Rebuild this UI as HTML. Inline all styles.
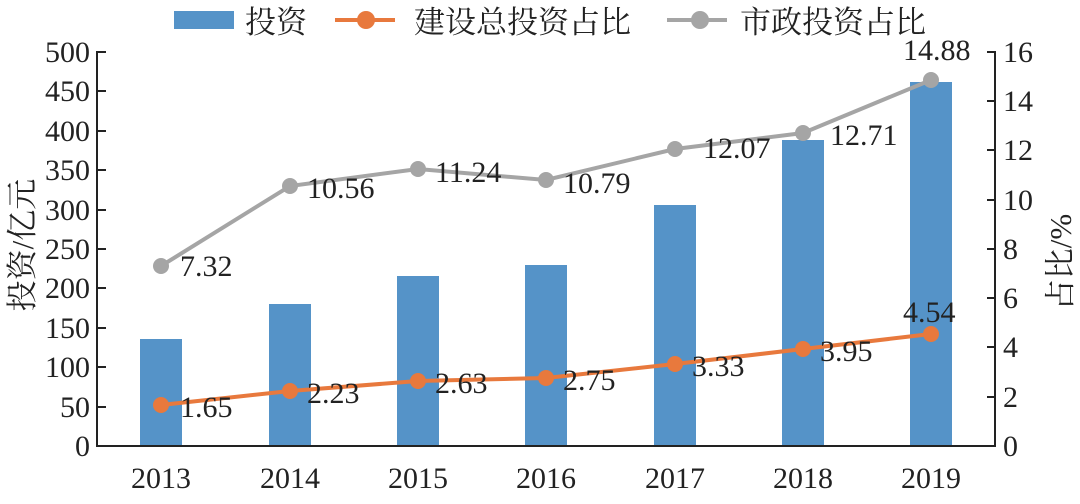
<!DOCTYPE html>
<html><head><meta charset="utf-8"><style>
body{margin:0;background:#fff}
text{font-family:"Liberation Serif","Noto Serif CJK SC",serif;fill:#222}
</style></head><body>
<svg width="1080" height="499" xmlns="http://www.w3.org/2000/svg">
<!-- legend -->
<rect x="174" y="11" width="60" height="18" fill="#5593c8"/>
<text x="245" y="33" font-size="31">投资</text>
<line x1="335" y1="20" x2="395" y2="20" stroke="#e8793d" stroke-width="4"/>
<circle cx="366" cy="20" r="9" fill="#e8793d"/>
<text x="414" y="33" font-size="31">建设总投资占比</text>
<line x1="667" y1="20" x2="727" y2="20" stroke="#a5a5a5" stroke-width="4"/>
<circle cx="700" cy="20" r="9" fill="#a5a5a5"/>
<text x="740" y="33" font-size="31">市政投资占比</text>
<!-- bars -->
<g fill="#5593c8">
<rect x="140" y="339" width="42" height="107"/>
<rect x="269" y="304" width="42" height="142"/>
<rect x="397" y="276" width="42" height="170"/>
<rect x="525" y="265" width="42" height="181"/>
<rect x="654" y="205" width="42" height="241"/>
<rect x="782" y="140" width="42" height="306"/>
<rect x="910" y="82" width="42" height="364"/>
</g>
<!-- axes -->
<g stroke="#222" stroke-width="2" fill="none">
<path d="M106 52H97V446H995V52H987"/>
<path d="M97 91h9M97 131h9M97 170h9M97 210h9M97 249h9M97 288h9M97 328h9M97 367h9M97 407h9"/>
<path d="M995 101h-8M995 150h-8M995 200h-8M995 249h-8M995 298h-8M995 347h-8M995 397h-8"/>
</g>
<g font-size="30" text-anchor="end">
<text x="90" y="62">500</text><text x="90" y="101">450</text><text x="90" y="141">400</text>
<text x="90" y="180">350</text><text x="90" y="220">300</text><text x="90" y="259">250</text>
<text x="90" y="298">200</text><text x="90" y="338">150</text><text x="90" y="377">100</text>
<text x="90" y="417">50</text><text x="90" y="456">0</text>
</g>
<g font-size="30">
<text x="1003" y="62">16</text><text x="1003" y="111">14</text><text x="1003" y="160">12</text>
<text x="1003" y="210">10</text><text x="1003" y="259">8</text><text x="1003" y="308">6</text>
<text x="1003" y="357">4</text><text x="1003" y="407">2</text><text x="1003" y="456">0</text>
</g>
<g font-size="30" text-anchor="middle">
<text x="161" y="488">2013</text><text x="290" y="488">2014</text><text x="418" y="488">2015</text>
<text x="546" y="488">2016</text><text x="675" y="488">2017</text><text x="803" y="488">2018</text>
<text x="931" y="488">2019</text>
</g>
<text font-size="31" transform="translate(33,245) rotate(-90)" text-anchor="middle">投资/亿元</text>
<text font-size="31" transform="translate(1071,262) rotate(-90)" text-anchor="middle">占比/%</text>
<!-- gray line -->
<polyline points="161,266 290,186 418,169 546,180 675,149 803,133 931,80" fill="none" stroke="#a5a5a5" stroke-width="4"/>
<g fill="#a5a5a5">
<circle cx="161" cy="266" r="8"/><circle cx="290" cy="186" r="8"/><circle cx="418" cy="169" r="8"/>
<circle cx="546" cy="180" r="8"/><circle cx="675" cy="149" r="8"/><circle cx="803" cy="133" r="8"/><circle cx="931" cy="80" r="8"/>
</g>
<!-- orange line -->
<polyline points="161,405 290,391 418,381 546,378 675,364 803,349 931,334" fill="none" stroke="#e8793d" stroke-width="4"/>
<g fill="#e8793d">
<circle cx="161" cy="405" r="8"/><circle cx="290" cy="391" r="8"/><circle cx="418" cy="381" r="8"/>
<circle cx="546" cy="378" r="8"/><circle cx="675" cy="364" r="8"/><circle cx="803" cy="349" r="8"/><circle cx="931" cy="334" r="8"/>
</g>
<g font-size="30">
<text x="180" y="276">7.32</text><text x="307" y="198">10.56</text><text x="435" y="182">11.24</text>
<text x="563" y="193">10.79</text><text x="703" y="158">12.07</text><text x="830" y="145">12.71</text>
<text x="903" y="60">14.88</text>
<text x="180" y="417">1.65</text><text x="307" y="403">2.23</text><text x="435" y="393">2.63</text>
<text x="563" y="390">2.75</text><text x="692" y="376">3.33</text><text x="820" y="361">3.95</text>
<text x="903" y="322">4.54</text>
</g>
</svg>
</body></html>
